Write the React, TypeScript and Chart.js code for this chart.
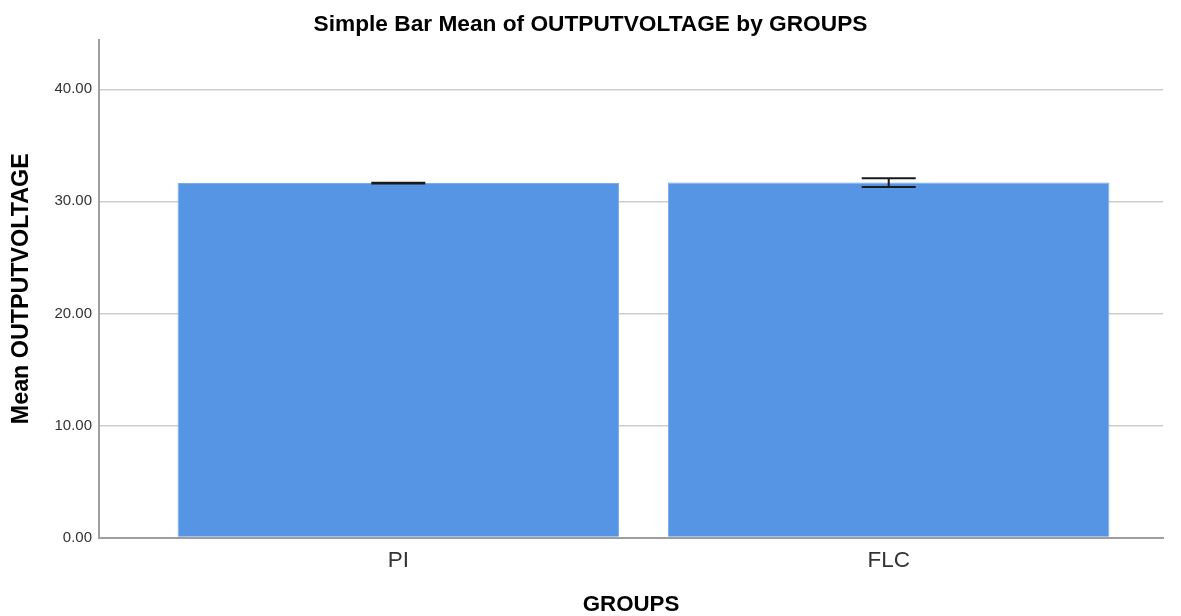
import React, { useEffect, useRef } from "react";
import { Chart, registerables } from "chart.js";

Chart.register(...registerables);

const categories: string[] = ["PI", "FLC"];
const means: number[] = [31.63, 31.68];
const ciLow: number[] = [31.60, 31.27];
const ciHigh: number[] = [31.66, 32.07];
const yTickValues: number[] = [0, 10, 20, 30, 40];

const FONT = "'Liberation Sans', Arial, sans-serif";

const errorBarPlugin = {
  id: "errorBars",
  afterDatasetsDraw(chart: any) {
    const { ctx, scales } = chart;
    const xs = scales.x;
    const ys = scales.y;
    ctx.save();
    ctx.strokeStyle = "#1a1a1a";
    ctx.lineWidth = 2;
    const capHalf = 27;
    for (let i = 0; i < categories.length; i++) {
      const x = xs.getPixelForValue(i);
      const yl = ys.getPixelForValue(ciLow[i]);
      const yh = ys.getPixelForValue(ciHigh[i]);
      ctx.beginPath();
      ctx.moveTo(x, yl);
      ctx.lineTo(x, yh);
      ctx.moveTo(x - capHalf, yl);
      ctx.lineTo(x + capHalf, yl);
      ctx.moveTo(x - capHalf, yh);
      ctx.lineTo(x + capHalf, yh);
      ctx.stroke();
    }
    ctx.restore();
  },
};

export default function App() {
  const ref = useRef<HTMLCanvasElement | null>(null);

  useEffect(() => {
    if (!ref.current) return;
    const chart = new Chart(ref.current, {
      type: "bar",
      data: {
        datasets: [
          {
            data: means.map((v, i) => ({ x: i, y: v })),
            backgroundColor: "#5595e4",
            borderColor: "#79acec",
            borderWidth: 1,
            barPercentage: 0.9,
            categoryPercentage: 1.0,
          },
        ],
      },
      options: {
        animation: false,
        responsive: false,
        layout: { padding: 0 },
        plugins: {
          legend: { display: false },
          tooltip: { enabled: false },
          title: {
            display: true,
            text: "Simple Bar Mean of OUTPUTVOLTAGE by GROUPS",
            color: "#000",
            font: { family: FONT, size: 22.7, weight: "bold", lineHeight: 1.2 },
            padding: { top: 11, bottom: 1.76 },
          },
        },
        scales: {
          x: {
            type: "linear",
            offset: false,
            min: -0.6103,
            max: 1.5593,
            grid: { display: false, drawTicks: false, offset: false },
            border: { display: true, color: "#9e9e9e", width: 2 },
            afterBuildTicks: (scale: any) => {
              scale.ticks = categories.map((_, i) => ({ value: i }));
            },
            afterFit: (scale: any) => {
              scale.height = 78.5;
            },
            ticks: {
              padding: 10,
              color: "#333",
              font: { family: FONT, size: 22.5 },
              callback: (v: any) => categories[Number(v)] ?? "",
            },
            title: {
              display: true,
              text: "GROUPS",
              color: "#000",
              font: { family: FONT, size: 22.3, weight: "bold", lineHeight: 1 },
              padding: 0,
            },
          },
          y: {
            min: 0,
            max: 44.4,
            grid: { color: "#cccccc", lineWidth: 1.5, drawTicks: false },
            border: { display: true, color: "#9e9e9e", width: 2 },
            afterBuildTicks: (scale: any) => {
              scale.ticks = yTickValues.map((v) => ({ value: v }));
            },
            afterFit: (scale: any) => {
              scale.width = 99;
            },
            ticks: {
              padding: 7,
              color: "#333",
              font: { family: FONT, size: 15 },
              callback: (v: any) => Number(v).toFixed(2),
            },
            title: {
              display: true,
              text: "Mean OUTPUTVOLTAGE",
              color: "#000",
              font: { family: FONT, size: 23.3, weight: "bold", lineHeight: 1.2 },
              padding: { top: 8, bottom: 0 },
            },
          },
          yRight: {
            position: "right",
            min: 0,
            max: 44.4,
            grid: { display: false, drawTicks: false },
            border: { display: false },
            ticks: { display: false },
            afterFit: (scale: any) => {
              scale.width = 18;
            },
          },
        },
      } as any,
      plugins: [errorBarPlugin],
    });
    return () => chart.destroy();
  }, []);

  return (
    <div style={{ position: "fixed", left: 0, top: 0, width: 1181, height: 616, background: "#fff" }}>
      <canvas ref={ref} width={1181} height={616} />
    </div>
  );
}
